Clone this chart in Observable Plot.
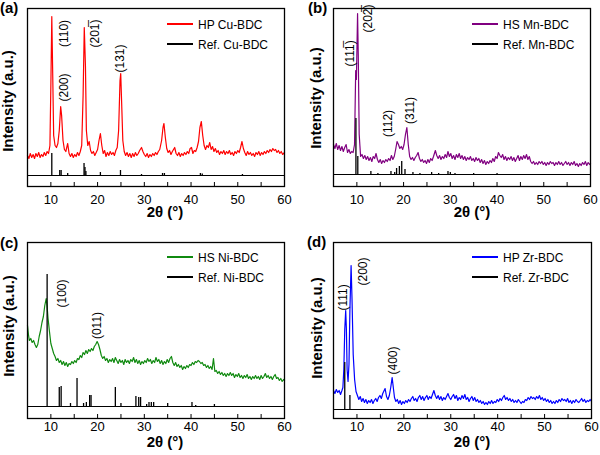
<!DOCTYPE html>
<html>
<head>
<meta charset="utf-8">
<script src="https://cdn.jsdelivr.net/npm/d3@7"></script>
<script src="https://cdn.jsdelivr.net/npm/@observablehq/plot@0.6"></script>
<style>
  body { margin: 0; background: #fff; }
  #fig { position: relative; width: 600px; height: 455px; overflow: hidden; font-family: "Liberation Sans", Arial, sans-serif; }
  #fig > svg.panel { position: absolute; overflow: visible; }
  #overlay { position: absolute; left: 0; top: 0; pointer-events: none; }
</style>
</head>
<body>
<div id="fig"></div>
<script>
// ---------- data (2θ in degrees, intensity in arbitrary units) ----------
const xTickValues = [10, 20, 30, 40, 50, 60];
const xTickMarks = [10, 15, 20, 25, 30, 35, 40, 45, 50, 55];

const cuSeriesName = "HP Cu-BDC";
const cuRefName = "Ref. Cu-BDC";
const cuHP = [[5,20],[5.3,17],[5.6,22],[5.9,18],[6.2,21],[6.5,17],[6.8,22],[7.1,19],[7.4,23],[7.7,18],[8,21],[8.3,19],[8.6,23],[8.9,20],[9.2,24],[9.5,22],[9.8,30],[10,90],[10.2,159],[10.4,100],[10.6,40],[10.9,30],[11.2,28],[11.5,32],[11.8,45],[12.1,69],[12.3,60],[12.6,35],[12.9,26],[13.2,24],[13.6,32],[13.9,22],[14.2,19],[14.5,22],[14.8,18],[15.1,21],[15.4,19],[15.7,23],[16,20],[16.3,24],[16.6,30],[16.9,80],[17.15,148],[17.4,110],[17.6,45],[17.9,30],[18.2,34],[18.5,25],[18.8,22],[19.1,24],[19.4,20],[19.7,23],[20,26],[20.3,35],[20.6,42],[20.9,30],[21.2,22],[21.5,25],[21.8,19],[22.1,23],[22.4,20],[22.7,24],[23,21],[23.3,23],[23.6,20],[23.9,25],[24.2,28],[24.5,45],[24.8,95],[24.95,102],[25.1,80],[25.4,35],[25.7,24],[26,20],[26.3,23],[26.6,19],[26.9,22],[27.2,18],[27.5,22],[27.8,19],[28.1,23],[28.4,20],[28.7,22],[29,25],[29.4,28],[29.7,24],[30,21],[30.3,19],[30.6,22],[30.9,18],[31.2,21],[31.5,19],[31.8,22],[32.1,20],[32.4,23],[32.7,21],[33,24],[33.3,26],[33.7,35],[34,48],[34.2,52],[34.5,38],[34.8,27],[35.1,23],[35.4,25],[35.7,21],[36,24],[36.5,28],[36.8,22],[37.1,20],[37.4,23],[37.7,19],[38,22],[38.3,20],[38.6,23],[38.9,21],[39.2,24],[39.5,22],[39.8,27],[40.1,28],[40.4,22],[40.7,25],[41,24],[41.3,28],[41.6,34],[41.9,48],[42.2,54],[42.5,40],[42.8,30],[43.1,26],[43.4,30],[43.7,28],[44,33],[44.3,26],[44.6,29],[44.9,24],[45.2,27],[45.5,23],[45.8,25],[46.1,21],[46.4,24],[46.7,22],[47,25],[47.3,21],[47.6,24],[47.9,22],[48.2,25],[48.5,21],[48.8,23],[49.1,20],[49.4,24],[49.7,22],[50,25],[50.3,23],[50.6,28],[50.9,34],[51.2,27],[51.5,23],[51.8,20],[52.1,24],[52.4,21],[52.7,23],[53,20],[53.3,22],[53.6,19],[53.9,23],[54.2,21],[54.5,24],[54.8,20],[55.1,23],[55.4,21],[55.7,24],[56,22],[56.3,25],[56.6,23],[56.9,26],[57.2,24],[57.5,27],[57.8,25],[58.1,26],[58.4,23],[58.7,25],[59,22],[59.3,24],[59.6,21],[60,23]];
const cuRef = [[10.2,22],[11.9,5],[12.2,5],[13.6,2],[17.1,12],[17.3,8],[17.5,4],[20.6,3],[24.9,5],[29.4,1],[33.9,2],[34.3,2],[42,2],[42.4,1.5],[51,1]];
const cuPeakText = ["(110)", "(200)", "(201\u0305)", "(131)"];
const cuPeakAt = [[12.85,142],[12.85,88],[19.5,142],[24.9,117]];

const mnSeriesName = "HS Mn-BDC";
const mnRefName = "Ref. Mn-BDC";
const mnHS = [[5,30],[5.3,26],[5.6,31],[5.9,25],[6.2,29],[6.5,24],[6.8,28],[7.1,23],[7.4,27],[7.7,30],[8,22],[8.3,25],[8.6,21],[8.9,23],[9.2,22],[9.5,30],[9.75,104],[9.9,95],[10.15,161],[10.3,120],[10.5,40],[10.8,18],[11.1,20],[11.4,16],[11.7,19],[12,15],[12.3,18],[12.6,14],[12.9,17],[13.2,13],[13.5,18],[13.8,16],[14.1,21],[14.4,15],[14.7,12],[15,15],[15.3,11],[15.6,14],[15.9,12],[16.2,15],[16.5,13],[16.8,16],[17.1,14],[17.4,19],[17.7,15],[18,18],[18.3,25],[18.6,33],[18.9,30],[19.2,26],[19.5,28],[19.8,25],[20.1,30],[20.4,40],[20.7,47],[21,30],[21.3,18],[21.6,15],[21.9,17],[22.2,14],[22.5,17],[22.8,19],[23.1,22],[23.4,16],[23.7,13],[24,15],[24.3,12],[24.6,14],[24.9,11],[25.2,15],[25.5,12],[25.8,16],[26.1,14],[26.4,18],[26.8,24],[27.1,19],[27.4,16],[27.7,19],[28,15],[28.3,18],[28.6,16],[28.9,20],[29.2,17],[29.5,23],[29.8,18],[30.1,21],[30.4,16],[30.7,19],[31,15],[31.3,20],[31.6,17],[31.9,21],[32.2,16],[32.5,19],[32.8,15],[33.1,18],[33.4,14],[33.7,17],[34,15],[34.3,18],[34.6,14],[34.9,16],[35.2,13],[35.5,17],[35.8,14],[36.1,16],[36.4,12],[36.7,15],[37,11],[37.3,14],[37.6,10],[37.9,13],[38.2,11],[38.5,14],[38.8,12],[39.1,16],[39.4,13],[39.7,18],[40,16],[40.3,22],[40.6,19],[40.9,17],[41.2,20],[41.5,15],[41.8,18],[42.1,14],[42.4,17],[42.7,15],[43,18],[43.3,14],[43.6,17],[43.9,13],[44.2,16],[44.5,19],[44.8,14],[45.1,18],[45.4,15],[45.7,19],[46,16],[46.3,20],[46.6,15],[46.9,18],[47.2,13],[47.5,11],[47.8,13],[48.1,10],[48.4,12],[48.7,10],[49,13],[49.3,11],[49.6,13],[49.9,10],[50.2,12],[50.5,9],[50.8,12],[51.1,10],[51.4,13],[51.7,11],[52,12],[52.3,9],[52.6,12],[52.9,10],[53.2,13],[53.5,10],[53.8,12],[54.1,9],[54.4,11],[54.7,13],[55,10],[55.3,12],[55.6,9],[55.9,12],[56.2,10],[56.5,13],[56.8,9],[57.1,11],[57.4,8],[57.7,11],[58,9],[58.3,12],[58.6,10],[58.9,13],[59.2,9],[59.5,12],[59.8,10],[60,11]];
const mnRef = [[9.8,56],[10.2,18],[13,3],[14.5,1],[17.3,3],[18.1,2],[18.5,6],[19.1,8],[19.6,13],[20.3,5],[22,2],[23.5,1],[26,2],[27.5,1],[29.5,3],[30,2],[31,1],[35,1],[40,1]];
const mnPeakText = ["(111\u0305)", "(202\u0305)", "(112)", "(311)"];
const mnPeakAt = [[8.6,121],[12.5,156],[16.8,51],[21.5,64]];

const niSeriesName = "HS Ni-BDC";
const niRefName = "Ref. Ni-BDC";
const niHS = [[5,81],[5.2,72],[5.4,66],[5.7,68],[6,64],[6.3,66],[6.6,62],[6.9,59],[7.2,62],[7.5,70],[7.8,76],[8.1,84],[8.4,90],[8.7,101],[9,108],[9.2,100],[9.4,88],[9.7,75],[10,63],[10.3,58],[10.6,53],[10.9,50],[11.2,46],[11.5,48],[11.8,44],[12.1,46],[12.4,42],[12.7,45],[13,41],[13.3,44],[13.6,40],[13.9,43],[14.2,42],[14.5,45],[14.8,43],[15.1,46],[15.4,44],[15.7,48],[16,47],[16.3,51],[16.6,49],[16.9,54],[17.2,52],[17.5,56],[17.8,53],[18.1,57],[18.4,55],[18.7,58],[19,56],[19.3,60],[19.6,62],[19.9,65],[20.2,62],[20.5,57],[20.8,51],[21.1,48],[21.4,50],[21.7,46],[22,48],[22.3,44],[22.6,47],[22.9,45],[23.2,48],[23.5,44],[23.8,49],[24.1,46],[24.4,43],[24.7,47],[25,44],[25.3,46],[25.6,42],[25.9,47],[26.2,44],[26.5,46],[26.8,43],[27.1,47],[27.4,45],[27.7,49],[28,44],[28.3,47],[28.6,43],[28.9,46],[29.2,42],[29.5,45],[29.8,43],[30.1,46],[30.4,44],[30.7,48],[31,45],[31.3,47],[31.6,43],[31.9,46],[32.2,44],[32.5,49],[32.8,45],[33.1,47],[33.4,43],[33.7,46],[34,42],[34.3,45],[34.6,43],[34.9,47],[35.2,44],[35.5,48],[35.8,50],[36.1,44],[36.4,41],[36.7,44],[37,40],[37.3,42],[37.6,39],[37.9,41],[38.2,37],[38.5,40],[38.8,38],[39.1,41],[39.4,39],[39.7,42],[40,41],[40.3,44],[40.6,42],[40.9,45],[41.2,44],[41.5,46],[41.8,45],[42.1,43],[42.4,44],[42.7,41],[43,42],[43.3,39],[43.6,41],[43.9,38],[44.2,40],[44.5,37],[44.8,48],[45.1,35],[45.4,36],[45.7,33],[46,35],[46.3,32],[46.6,34],[46.9,31],[47.2,33],[47.5,30],[47.8,33],[48.1,31],[48.4,34],[48.7,31],[49,33],[49.3,29],[49.6,32],[49.9,30],[50.2,33],[50.5,29],[50.8,31],[51.1,28],[51.4,31],[51.7,29],[52,32],[52.3,28],[52.6,30],[52.9,27],[53.2,30],[53.5,28],[53.8,31],[54.1,28],[54.4,30],[54.7,27],[55,31],[55.3,28],[55.6,30],[55.9,33],[56.2,29],[56.5,31],[56.8,28],[57.1,30],[57.4,27],[57.7,30],[58,32],[58.3,28],[58.6,29],[58.9,26],[59.2,28],[59.5,25],[59.8,27],[60,26]];
const niRef = [[9.2,132],[11.8,19],[12.2,20],[14.2,3],[15.6,28],[17,3],[17.6,4],[18.3,11],[18.6,11],[23.8,19],[25,3],[28.2,10],[28.8,9],[29.2,9],[30.5,2],[31,4],[31.5,4],[32,4],[35,3],[40.2,4],[41,1],[45,2]];
const niPeakText = ["(100)", "(011)"];
const niPeakAt = [[12.5,113],[20,81]];

const zrSeriesName = "HP Zr-BDC";
const zrRefName = "Ref. Zr-BDC";
const zrHP = [[5,19],[5.3,16],[5.6,20],[5.9,17],[6.2,19],[6.5,15],[6.8,19],[7,22],[7.2,40],[7.4,80],[7.6,99],[7.75,80],[7.9,40],[8.1,28],[8.3,45],[8.5,100],[8.75,144],[8.95,110],[9.2,55],[9.5,30],[9.8,18],[10.1,14],[10.4,10],[10.7,13],[11,8],[11.3,11],[11.6,7],[11.9,10],[12.2,6],[12.5,9],[12.8,7],[13.1,10],[13.4,6],[13.7,9],[14,11],[14.3,8],[14.6,12],[14.9,14],[15.2,11],[15.5,16],[15.8,19],[16,21],[16.3,13],[16.6,10],[16.9,14],[17.2,22],[17.5,32],[17.7,24],[18,12],[18.3,8],[18.6,10],[18.9,6],[19.2,9],[19.5,5],[19.8,8],[20.1,6],[20.4,9],[20.7,7],[21,10],[21.3,8],[21.6,11],[21.9,13],[22.2,9],[22.5,11],[22.8,8],[23.1,12],[23.4,14],[23.7,10],[24,13],[24.3,9],[24.6,12],[24.9,14],[25.2,10],[25.5,13],[25.8,11],[26.1,15],[26.4,19],[26.7,14],[27,11],[27.3,14],[27.6,10],[27.9,13],[28.2,9],[28.5,12],[28.8,10],[29.1,13],[29.4,16],[29.7,12],[30,10],[30.3,13],[30.6,15],[30.9,11],[31.2,14],[31.5,9],[31.8,12],[32.1,10],[32.4,14],[32.7,11],[33,15],[33.3,10],[33.6,12],[33.9,8],[34.2,11],[34.5,13],[34.8,9],[35.1,12],[35.4,8],[35.7,10],[36,7],[36.3,9],[36.6,6],[36.9,8],[37.2,5],[37.5,7],[37.8,5],[38.1,8],[38.4,6],[38.7,9],[39,6],[39.3,8],[39.6,7],[39.9,10],[40.2,8],[40.5,11],[40.8,9],[41.1,12],[41.4,14],[41.7,10],[42,12],[42.3,9],[42.6,11],[42.9,8],[43.2,10],[43.5,7],[43.8,9],[44.1,7],[44.4,10],[44.7,8],[45,6],[45.3,8],[45.6,7],[45.9,10],[46.2,9],[46.5,12],[46.8,10],[47.1,13],[47.4,11],[47.7,12],[48,10],[48.3,13],[48.6,11],[48.9,14],[49.2,10],[49.5,12],[49.8,9],[50.1,11],[50.4,8],[50.7,10],[51,7],[51.3,9],[51.6,6],[51.9,8],[52.2,6],[52.5,9],[52.8,7],[53.1,10],[53.4,8],[53.7,11],[54,9],[54.3,10],[54.6,8],[54.9,11],[55.2,7],[55.5,9],[55.8,6],[56.1,9],[56.4,7],[56.7,10],[57,8],[57.3,7],[57.6,9],[57.9,11],[58.2,8],[58.5,10],[58.8,7],[59.1,9],[59.4,8],[59.7,10],[60,8]];
const zrRef = [[7.4,47],[8.5,14]];
const zrPeakText = ["(111)", "(200)", "(400)"];
const zrPeakAt = [[7.1,112],[11.4,138],[17.7,49]];

const panelLetters = ["(a)", "(b)", "(c)", "(d)"];
const xTitle = "2\u03b8 (\u00b0)";
const yTitle = "Intensity (a.u.)";

// ---------- drawing ----------
const FONT = '"Liberation Sans", Arial, sans-serif';
const fig = document.getElementById("fig");
const toPts = arr => arr.map(([t, v]) => ({t, v}));

const panels = [
  {left:0,   top:0,   w:300, h:227, ml:27, mr:16, mt:8,  mb:41, pad:8, yd:[-11,167], color:"#ff0000", series:cuHP, ref:cuRef, labels:cuPeakText, at:cuPeakAt, name:cuSeriesName, refName:cuRefName},
  {left:300, top:0,   w:300, h:227, ml:33, mr:10, mt:8,  mb:41, pad:8, yd:[-12,166], color:"#800080", series:mnHS, ref:mnRef, labels:mnPeakText, at:mnPeakAt, name:mnSeriesName, refName:mnRefName},
  {left:0,   top:227, w:300, h:228, ml:27, mr:16, mt:15, mb:37, pad:3, yd:[-12,164], color:"#108a10", series:niHS, ref:niRef, labels:niPeakText, at:niPeakAt, name:niSeriesName, refName:niRefName},
  {left:300, top:227, w:300, h:228, ml:33, mr:9,  mt:15, mb:37, pad:3, yd:[-9,167],  color:"#0000ff", series:zrHP, ref:zrRef, labels:zrPeakText, at:zrPeakAt, name:zrSeriesName, refName:zrRefName}
];

for (const p of panels) {
  const ann = p.labels.map((s, i) => ({s, t: p.at[i][0], v: p.at[i][1]}));
  const chart = Plot.plot({
    width: p.w, height: p.h,
    marginLeft: p.ml, marginRight: p.mr, marginTop: p.mt, marginBottom: p.mb,
    style: {fontFamily: FONT, fontSize: "13px", color: "#000", background: "transparent", overflow: "visible"},
    x: {domain: [5, 60], ticks: xTickValues, tickSize: 0, tickPadding: p.pad, label: null},
    y: {domain: p.yd, axis: null},
    marks: [
      Plot.line(toPts(p.series), {x: "t", y: "v", stroke: p.color, strokeWidth: 1.2}),
      Plot.ruleY([0], {stroke: "#000", strokeWidth: 1}),
      Plot.ruleX(toPts(p.ref), {x: "t", y1: 0, y2: "v", stroke: "#000", strokeWidth: 1.3}),
      Plot.ruleX(xTickMarks, {x: d => d, y1: p.yd[0], y2: p.yd[0] + 4, stroke: "#000", strokeWidth: 1}),
      Plot.frame({stroke: "#000", strokeWidth: 1.3}),
      Plot.text(ann, {x: "t", y: "v", text: "s", rotate: -90, fontSize: 12, fill: "#000", textAnchor: "middle", lineAnchor: "middle"})
    ]
  });
  chart.classList.add("panel");
  chart.style.left = p.left + "px";
  chart.style.top = p.top + "px";
  fig.appendChild(chart);
}

// overlay texts: panel letters, axis titles, legends
const ns = "http://www.w3.org/2000/svg";
const ov = document.createElementNS(ns, "svg");
ov.setAttribute("id", "overlay");
ov.setAttribute("width", 600);
ov.setAttribute("height", 455);
fig.appendChild(ov);
function txt(x, y, s, opts = {}) {
  const e = document.createElementNS(ns, "text");
  e.setAttribute("x", x); e.setAttribute("y", y);
  e.setAttribute("font-family", FONT);
  e.setAttribute("font-size", opts.size || 13);
  if (opts.bold) e.setAttribute("font-weight", "bold");
  if (opts.anchor) e.setAttribute("text-anchor", opts.anchor);
  if (opts.rotate) e.setAttribute("transform", `rotate(${opts.rotate} ${x} ${y})`);
  e.textContent = s;
  ov.appendChild(e);
}
function seg(x1, x2, y, color) {
  const l = document.createElementNS(ns, "line");
  l.setAttribute("x1", x1); l.setAttribute("x2", x2);
  l.setAttribute("y1", y); l.setAttribute("y2", y);
  l.setAttribute("stroke", color); l.setAttribute("stroke-width", 2);
  ov.appendChild(l);
}
const letterPos = [[0,13],[308,13],[0,248],[307,247]];
const xTitlePos = [[165,217],[472,217],[165,447],[472,447]];
const yTitlePos = [[13,101],[321,98],[14,326],[322,328]];
const legendPos = [[167,24],[472,24],[167,257],[472,257]];
panels.forEach((p, i) => {
  txt(letterPos[i][0], letterPos[i][1], panelLetters[i], {size: 15, bold: true});
  txt(xTitlePos[i][0], xTitlePos[i][1], xTitle, {size: 15, bold: true, anchor: "middle"});
  txt(yTitlePos[i][0], yTitlePos[i][1], yTitle, {size: 15, bold: true, anchor: "middle", rotate: -90});
  const [lx, ly] = legendPos[i];
  seg(lx, lx + 26, ly, p.color);
  txt(lx + 31, ly + 4.5, p.name, {size: 12});
  seg(lx, lx + 26, ly + 20, "#000");
  txt(lx + 31, ly + 24.5, p.refName, {size: 12});
});
</script>
</body>
</html>
